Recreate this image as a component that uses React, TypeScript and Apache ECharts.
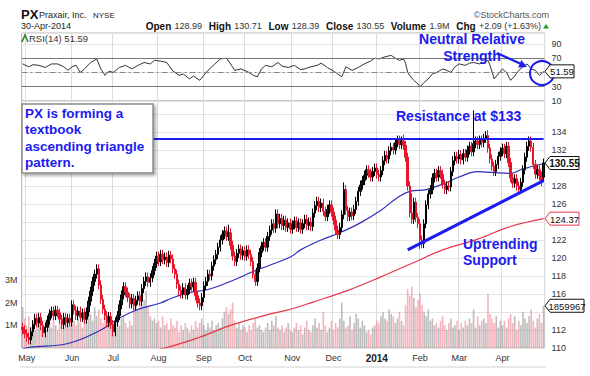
import React, { useEffect, useRef } from "react";
import * as echarts from "echarts";

const FONT = "'Liberation Sans', Arial, Helvetica, sans-serif";
const BLUE = "#1c1cf0";

// ---------- data ----------
const HOLIDAYS = ["2013-05-27", "2013-07-04", "2013-09-02", "2013-11-28", "2013-12-25", "2014-01-01", "2014-01-20", "2014-02-17", "2014-04-18"];
const MONTH_LABELS = ["May", "Jun", "Jul", "Aug", "Sep", "Oct", "Nov", "Dec", "2014", "Feb", "Mar", "Apr"];

const closes = [
  112.0, 111.6,
  111.2, 110.9, 111.8, 112.6, 113.3, 112.8, 113.4, 112.5, 111.7, 112.3, 113.1, 113.8, 114.1, 113.6, 114.2, 113.9, 113.2, 112.6, 113.4, 112.8, 113.3, 112.9,
  114.8, 114.2, 113.6, 114.1, 113.4, 113.9, 113.2, 114.0, 115.2, 116.3, 117.4, 118.2, 118.8, 117.0, 115.4, 114.3, 113.6, 112.8, 113.5, 112.6,
  111.8, 112.9, 113.6, 114.8, 115.9, 116.8, 116.2, 115.6, 114.9, 115.5, 114.7, 115.3, 115.8, 115.2, 116.6, 117.4, 117.9, 117.3, 117.8, 118.6, 119.4, 120.2,
  119.6, 120.4, 119.8, 120.1, 119.5, 120.3, 119.9, 118.8, 118.2, 117.1, 116.4, 116.0, 116.7, 115.9, 116.5, 117.2, 116.8, 117.3, 115.8, 115.0, 114.7, 115.6,
  116.9, 117.4, 118.2, 118.0, 119.1, 119.8, 120.4, 121.2, 122.0, 122.6, 123.0, 122.4, 122.8, 121.4, 120.2, 119.6, 120.5, 121.0, 120.3, 120.8,
  120.2, 120.9, 120.4, 119.6, 118.2, 117.4, 118.9, 120.6, 121.3, 121.7, 121.2, 122.4, 123.1, 123.8, 123.3, 124.9, 123.8, 124.4, 123.6, 124.2, 123.4, 123.9, 123.2,
  123.7, 124.1, 123.4, 123.9, 123.2, 123.8, 124.3, 123.6, 124.0, 123.5, 125.0, 125.8, 126.3, 125.6, 126.1, 125.2, 124.6, 125.4, 125.9, 125.1,
  124.2, 123.1, 122.6, 123.4, 124.8, 127.6, 125.3, 124.6, 125.1, 124.7, 125.4, 126.3, 127.4, 128.1, 128.6, 129.2, 129.8, 129.4, 129.0, 129.6, 130.0,
  129.3, 129.0, 129.7, 130.8, 131.4, 131.0, 131.9, 132.3, 132.0, 132.8, 133.1, 132.6, 133.0, 132.5, 131.2, 128.0, 125.0, 124.3, 126.2, 124.5, 123.8,
  122.0, 121.6, 123.8, 125.9, 127.1, 127.6, 128.9, 129.4, 129.0, 129.7, 129.3, 128.2, 127.6, 128.0, 127.9, 129.6, 130.8, 131.3, 131.0,
  131.5, 130.9, 131.6, 131.2, 132.0, 132.4, 131.8, 132.7, 133.0, 132.6, 133.1, 132.8, 133.3, 133.6, 132.2, 131.0, 130.2, 129.6, 130.4, 131.3, 131.8,
  132.2, 131.6, 132.4, 130.6, 128.9, 128.3, 128.8, 128.0, 127.6, 128.4, 129.8, 131.2, 132.4, 133.0, 132.3, 130.4, 129.3, 129.8, 129.1, 128.46, 130.55,
];
const firstOpen = 112.3;
const lastOpen = 128.99;
// notable wick extremes [dayIndex, price]
const wickHighs = [[219, 136.4], [185, 133.7], [156, 128.4], [189, 127.2], [226, 134.2], [36, 119.3], [100, 123.7], [123, 125.4]];
const wickLows = [[193, 121.0], [113, 116.9], [86, 114.3], [44, 111.3], [241, 127.0], [3, 110.4]];
const wickSize = 0.5;

const volumesM = [
  1.8, 1.3,
  1.0, 1.4, 0.9, 1.2, 0.8, 1.1, 1.3, 0.9, 1.0, 1.2, 0.8, 1.1, 0.9, 1.3, 1.0, 0.8, 1.2, 1.4, 0.9, 1.1, 1.0, 1.3,
  1.5, 1.2, 1.0, 1.3, 1.1, 0.9, 1.4, 1.6, 1.9, 1.5, 1.2, 1.8, 1.4, 1.7, 1.3, 1.1, 1.5, 1.2, 1.0, 1.4,
  1.1, 0.8, 1.2, 1.0, 1.3, 1.4, 1.1, 0.9, 1.2, 1.0, 1.8, 2.0, 1.7, 2.2, 1.9, 2.1, 2.5, 1.8, 1.4, 1.2, 1.3, 1.1,
  1.2, 0.9, 1.4, 1.0, 1.1, 0.8, 1.3, 1.0, 0.9, 1.2, 0.7, 1.0, 0.8, 1.1, 0.9, 0.7, 1.0, 0.8, 1.2, 0.9, 1.1, 1.3,
  1.0, 0.8, 1.1, 0.9, 1.2, 0.8, 1.0, 1.1, 0.9, 1.3, 1.6, 1.8, 1.5, 1.7, 2.0, 1.2, 0.9, 1.1, 0.8, 1.0,
  0.9, 0.7, 1.0, 0.8, 1.1, 1.3, 0.9, 1.0, 0.8, 0.7, 0.9, 1.1, 0.8, 1.2, 1.0, 1.4, 0.9, 0.8, 1.0, 0.7, 0.9, 1.1, 0.8,
  0.7, 0.9, 1.1, 0.8, 1.0, 0.6, 0.9, 1.2, 0.8, 0.7, 1.0, 1.3, 0.9, 1.1, 0.8, 1.6, 1.0, 0.7, 0.9, 1.2,
  0.8, 1.1, 0.9, 1.3, 2.0, 1.2, 0.9, 1.0, 1.4, 0.8, 1.1, 1.5, 1.3, 0.9, 1.2, 1.0, 0.7, 0.8, 0.6, 0.9, 1.0,
  1.2, 1.1, 1.4, 1.6, 1.3, 1.2, 1.7, 1.5, 1.4, 1.1, 1.3, 1.6, 1.2, 1.0, 1.9, 2.6, 2.3, 2.7, 2.2, 1.8, 2.1,
  2.4, 1.9, 1.6, 1.4, 1.7, 1.2, 1.3, 1.0, 1.1, 0.9, 1.2, 1.4, 1.0, 0.8, 1.1, 1.3, 0.9, 1.0, 1.2,
  0.8, 1.1, 0.9, 1.2, 1.0, 1.3, 1.1, 1.7, 0.9, 1.4, 1.0, 1.2, 1.3, 1.1, 2.4, 1.5, 1.3, 1.1, 1.4, 0.9, 1.2,
  1.0, 1.2, 0.9, 1.3, 1.5, 1.1, 1.4, 0.8, 1.2, 1.0, 1.6, 1.3, 1.1, 1.4, 1.7, 1.2, 0.9, 1.3, 1.5, 1.1, 1.86,
];
const lastVolume = 1859967;

// moving averages: [dayIndex, value]
const ma50 = [[0, 109.9], [4, 110.1], [22, 110.5], [38, 112.0], [46, 113.2], [55, 114.2], [67, 115.0], [72, 115.5], [80, 116.1], [90, 116.5], [102, 117.5], [112, 118.5], [120, 119.2], [130, 120.1], [135, 120.9], [145, 122.0], [154, 122.8], [164, 123.9], [174, 125.3], [182, 126.7], [188, 127.4], [196, 127.6], [204, 128.2], [212, 129.0], [221, 129.6], [228, 129.5], [237, 129.4], [243, 129.9], [253, 130.5]];
const ma200 = [[47, 109.0], [69, 110.0], [86, 111.2], [102, 112.6], [119, 113.7], [130, 114.3], [141, 115.1], [158, 116.4], [174, 117.9], [190, 119.5], [204, 120.9], [221, 122.1], [237, 123.5], [253, 124.37]];

const rsi = [[0, 62], [3, 58], [5, 61], [8, 60], [11, 57], [14, 62], [17, 62], [20, 58], [22, 53], [24, 58], [26, 60], [28, 50], [30, 55], [33, 64], [36, 69], [38, 55], [40, 46], [42, 52], [44, 50], [47, 57], [50, 60], [53, 55], [56, 60], [59, 64], [62, 62], [64, 67], [67, 66], [70, 64], [73, 52], [76, 46], [78, 48], [81, 41], [83, 45], [86, 39], [88, 46], [90, 53], [93, 61], [96, 69], [99, 70], [101, 62], [103, 53], [106, 55], [110, 50], [112, 46], [114, 44], [116, 55], [118, 60], [121, 58], [124, 64], [126, 59], [129, 57], [132, 60], [135, 54], [137, 55], [140, 58], [143, 60], [145, 63], [148, 57], [151, 52], [153, 48], [155, 44], [157, 58], [160, 53], [163, 57], [166, 62], [169, 66], [171, 70], [173, 69], [176, 72], [179, 74], [181, 70], [183, 67], [185, 69], [186, 63], [187, 50], [189, 42], [190, 39], [192, 34], [193, 30], [195, 36], [197, 41], [199, 48], [201, 50], [204, 55], [206, 53], [208, 50], [210, 58], [212, 62], [215, 60], [217, 63], [219, 64], [222, 62], [224, 64], [226, 67], [227, 60], [229, 41], [231, 48], [233, 55], [235, 50], [237, 39], [239, 45], [241, 53], [243, 58], [245, 62], [247, 55], [249, 53], [251, 46], [253, 51.59]];
const lastRsi = 51.59;

const resistanceLevel = 133.2;
const supportLine = [[187, 120.9], [253, 128.6]];

// ---------- helpers ----------
function tradingDays(): string[] {
  const out: string[] = [];
  const d = new Date(Date.UTC(2013, 3, 29));
  const e = new Date(Date.UTC(2014, 3, 30));
  while (d.getTime() <= e.getTime()) {
    const wd = d.getUTCDay();
    const s = d.toISOString().slice(0, 10);
    if (wd !== 0 && wd !== 6 && HOLIDAYS.indexOf(s) < 0) out.push(s);
    d.setUTCDate(d.getUTCDate() + 1);
  }
  return out;
}

const dates = tradingDays();
const monthStart: Record<number, string> = {};
{
  let k = 0;
  for (let i = 1; i < dates.length; i++) {
    if (dates[i].slice(5, 7) !== dates[i - 1].slice(5, 7)) {
      monthStart[i] = MONTH_LABELS[k++] || "";
    }
  }
}
const isMonthStart = (i: number) => monthStart[i] !== undefined;

const P_MIN = 110;
const P_MAX = 137.44;
const V_MAX = 10.88;

function buildCandles() {
  const hi: Record<number, number> = {};
  const lo: Record<number, number> = {};
  wickHighs.forEach(([i, v]) => (hi[i] = v));
  wickLows.forEach(([i, v]) => (lo[i] = v));
  return closes.map((c, i) => {
    const o = i === 0 ? firstOpen : i === closes.length - 1 ? lastOpen : closes[i - 1];
    const h = Math.max(hi[i] ?? 0, Math.max(o, c) + wickSize);
    const l = Math.min(lo[i] ?? 999, Math.min(o, c) - wickSize);
    return [o, c, l, h];
  });
}

function buildVolumes() {
  return volumesM.map((v, i) => {
    const down = i > 0 && closes[i] < closes[i - 1];
    return { value: v, itemStyle: { color: down ? "rgba(236,120,134,0.55)" : "rgba(150,150,150,0.62)" } };
  });
}

// price-axis labels hidden where a value box sits on top of them
const lastClose = closes[closes.length - 1];
const lastMa200 = ma200[ma200.length - 1][1];
const volAsPrice = P_MIN + (lastVolume / 1e6 / V_MAX) * (P_MAX - P_MIN);
const boxedPrices = [lastClose, lastMa200, volAsPrice];
const priceLabel = (v: number) => {
  if (v > 135) return "";
  if (boxedPrices.some((b) => Math.abs(b - v) < 0.95)) return "";
  return String(v);
};

const GRID_L = 21.6;
const GRID_R = 45.4;

function buildOption(): any {
  return {
    animation: false,
    backgroundColor: "#ffffff",
    textStyle: { fontFamily: FONT },
    grid: [
      { left: GRID_L, right: GRID_R, top: 101, height: 247, show: true, borderColor: "#b5b5b5", borderWidth: 1, backgroundColor: "transparent" },
      { left: GRID_L, right: GRID_R, top: 33, height: 68, show: true, borderColor: "#b5b5b5", borderWidth: 1, backgroundColor: "transparent" },
    ],
    xAxis: [
      {
        type: "category", gridIndex: 0, data: dates, boundaryGap: true,
        axisLine: { show: false }, axisTick: { show: false },
        axisLabel: {
          interval: (i: number) => isMonthStart(i),
          formatter: (_v: string, i: number) => (monthStart[i] === "2014" ? "{b|2014}" : monthStart[i] || ""),
          fontSize: 9, color: "#333", margin: 5, fontFamily: FONT,
          rich: { b: { fontWeight: "bold", fontSize: 10, color: "#222", fontFamily: FONT } },
        },
        splitLine: { show: true, interval: (i: number) => isMonthStart(i), lineStyle: { color: "#dcdcdc", width: 1 } },
      },
      {
        type: "category", gridIndex: 1, data: dates, boundaryGap: true,
        axisLine: { show: false }, axisTick: { show: false }, axisLabel: { show: false },
        splitLine: { show: true, interval: (i: number) => isMonthStart(i), lineStyle: { color: "#dcdcdc", width: 1 } },
      },
    ],
    yAxis: [
      {
        type: "value", gridIndex: 0, position: "right", min: P_MIN, max: P_MAX, interval: 2,
        axisLine: { show: false }, axisTick: { show: false },
        axisLabel: { fontSize: 9, color: "#333", margin: 7, fontFamily: FONT, formatter: priceLabel },
        splitLine: { show: true, lineStyle: { color: "#e3e3e3", width: 1 } },
      },
      {
        type: "value", gridIndex: 1, position: "right", min: 10, max: 105.4, interval: 20,
        axisLine: { show: false }, axisTick: { show: false },
        axisLabel: { fontSize: 9, color: "#333", margin: 7, fontFamily: FONT, formatter: (v: number) => (v === 50 || v > 95 ? "" : String(v)) },
        splitLine: { show: true, lineStyle: { color: "#e3e3e3", width: 1 } },
      },
      {
        type: "value", gridIndex: 0, position: "left", min: 0, max: V_MAX, interval: 1,
        axisLine: { show: false }, axisTick: { show: false }, splitLine: { show: false },
        axisLabel: { fontSize: 9, color: "#333", margin: 4, fontFamily: FONT, formatter: (v: number) => (v >= 1 && v <= 3 ? v + "M" : "") },
      },
    ],
    series: [
      {
        type: "bar", name: "Volume", xAxisIndex: 0, yAxisIndex: 2, data: buildVolumes(),
        barCategoryGap: "20%", silent: true, z: 1,
      },
      {
        type: "line", name: "MA200", xAxisIndex: 0, yAxisIndex: 0, data: ma200, showSymbol: false, smooth: 0.4,
        lineStyle: { color: "#e5364c", width: 1.2 }, silent: true, z: 2,
      },
      {
        type: "line", name: "MA50", xAxisIndex: 0, yAxisIndex: 0, data: ma50, showSymbol: false, smooth: 0.4,
        lineStyle: { color: "#2f2fb8", width: 1.2 }, silent: true, z: 2,
      },
      {
        type: "candlestick", name: "PX", xAxisIndex: 0, yAxisIndex: 0, data: buildCandles(), barWidth: 1.9, silent: true, z: 3,
        itemStyle: { color: "#1a1a1a", color0: "#e3162b", borderColor: "#000", borderColor0: "#e3162b", borderWidth: 1 },
        markLine: {
          silent: true, symbol: ["none", "none"], animation: false, label: { show: false },
          data: [
            [
              { coord: [0, resistanceLevel], lineStyle: { color: BLUE, width: 2.2, type: "solid" } },
              { coord: [closes.length - 1, resistanceLevel] },
            ],
            [
              { coord: supportLine[0], lineStyle: { color: BLUE, width: 3, type: "solid" } },
              { coord: supportLine[1] },
            ],
          ],
        },
      },
      {
        type: "line", name: "RSI", xAxisIndex: 1, yAxisIndex: 1, data: rsi, showSymbol: false,
        lineStyle: { color: "#333", width: 1 }, silent: true, z: 3,
        markLine: {
          silent: true, symbol: ["none", "none"], animation: false, label: { show: false },
          data: [
            { yAxis: 70, lineStyle: { color: "#777", width: 1, type: "solid" } },
            { yAxis: 30, lineStyle: { color: "#777", width: 1, type: "solid" } },
            { yAxis: 50, lineStyle: { color: "#888", width: 1, type: [6, 3, 2, 3] } },
          ],
        },
      },
    ],
  };
}

function valueBox(y: number, text: string, stroke: string, bold: boolean, x1: number): any[] {
  const x0 = 545;
  return [
    {
      type: "polygon", z: 50,
      shape: { points: [[x0, y], [x0 + 5, y - 6.5], [x1, y - 6.5], [x1, y + 6.5], [x0 + 5, y + 6.5]] },
      style: { fill: "#fff", stroke, lineWidth: 1 },
    },
    {
      type: "text", z: 51, x: (x0 + 5 + x1) / 2, y: y + 0.5,
      style: { text, fill: "#111", font: `${bold ? "bold " : ""}${bold ? 10 : 9.5}px ${FONT}`, textAlign: "center", textVerticalAlign: "middle" },
    },
  ];
}

function buildGraphics(chart: any): any[] {
  const yClose = chart.convertToPixel({ yAxisIndex: 0 }, lastClose);
  const yMa = chart.convertToPixel({ yAxisIndex: 0 }, lastMa200);
  const yVol = chart.convertToPixel({ yAxisIndex: 2 }, lastVolume / 1e6);
  const yRsi = chart.convertToPixel({ yAxisIndex: 1 }, lastRsi);
  const t = (x: number, y: number, text: string, font: string, fill = "#222", align = "left") => ({
    type: "text", x, y, z: 40,
    style: { text, font, fill, textAlign: align, textVerticalAlign: "middle" },
  });
  const big = `bold 14px ${FONT}`;
  return [
    // header
    t(21, 14, "PX", `bold 13px ${FONT}`, "#111"),
    t(39, 15, "Praxair, Inc.", `9px ${FONT}`, "#222"),
    t(93, 15, "NYSE", `8px ${FONT}`, "#222"),
    t(21, 26, "30-Apr-2014", `9px ${FONT}`, "#222"),
    t(549, 15, "\u00a9StockCharts.com", `9px ${FONT}`, "#555", "right"),
    {
      type: "text", x: 541, y: 26, z: 40,
      style: {
        text: "{b|Open} {n|128.99}  {b|High} {n|130.71}  {b|Low} {n|128.39}  {b|Close} {n|130.55}  {b|Volume} {n|1.9M}  {b|Chg} {n|+2.09 (+1.63%)}",
        textAlign: "right", textVerticalAlign: "middle",
        rich: {
          b: { fontFamily: FONT, fontWeight: "bold", fontSize: 10, fill: "#111" },
          n: { fontFamily: FONT, fontSize: 9, fill: "#333" },
        },
      },
    },
    { type: "polygon", z: 40, shape: { points: [[543, 28.5], [546, 24], [549, 28.5]] }, style: { fill: "#22a022" } },
    // RSI label
    { type: "polyline", z: 40, shape: { points: [[22, 42], [25, 35], [28, 42]] }, style: { stroke: "#2a8a2a", lineWidth: 1.6, fill: "none" } },
    t(29, 38, "RSI(14) 51.59", `9.5px ${FONT}`, "#333"),
    // bottom rule
    { type: "line", z: 5, shape: { x1: 20, y1: 367, x2: 546, y2: 367 }, style: { stroke: "#d0d0d0", lineWidth: 1 } },
    // annotations
    t(472, 39, "Neutral Relative", big, BLUE, "center"),
    t(472, 56, "Strength", big, BLUE, "center"),
    { type: "line", z: 40, shape: { x1: 497, y1: 53, x2: 520, y2: 63.5 }, style: { stroke: BLUE, lineWidth: 2.2 } },
    { type: "polygon", z: 40, shape: { points: [[527, 67], [518.1, 67.4], [521.3, 60.1]] }, style: { fill: BLUE } },
    { type: "circle", z: 45, shape: { cx: 542, cy: 73, r: 12 }, style: { stroke: BLUE, lineWidth: 2, fill: "none" } },
    t(396, 116, "Resistance at $133", big, BLUE),
    t(463, 244, "Uptrending", big, BLUE),
    t(463, 260, "Support", big, BLUE),
    {
      type: "rect", z: 41, shape: { x: 22, y: 104, width: 131, height: 69 },
      style: { fill: "#fff", stroke: "#8c8c8c", lineWidth: 1.5, shadowBlur: 3, shadowOffsetX: 2, shadowOffsetY: 2, shadowColor: "rgba(0,0,0,0.35)" },
    },
    { ...t(25, 113, "PX is forming a", `bold 13.5px ${FONT}`, BLUE), z: 42 },
    { ...t(25, 129.5, "textbook", `bold 13.5px ${FONT}`, BLUE), z: 42 },
    { ...t(25, 146, "ascending triangle", `bold 13.5px ${FONT}`, BLUE), z: 42 },
    { ...t(25, 162.5, "pattern.", `bold 13.5px ${FONT}`, BLUE), z: 42 },
    // value boxes on the right
    ...valueBox(yClose, lastClose.toFixed(2), "#111", true, 579),
    ...valueBox(yMa, lastMa200.toFixed(2), "#e5364c", false, 579),
    ...valueBox(yVol, String(lastVolume), "#111", false, 584),
    ...valueBox(yRsi, lastRsi.toFixed(2), "#111", false, 574),
  ];
}

export default function App() {
  const ref = useRef<HTMLDivElement>(null);
  useEffect(() => {
    const el = ref.current;
    if (!el) return;
    const chart = echarts.init(el, null, { renderer: "svg" });
    chart.setOption(buildOption());
    chart.setOption({ graphic: buildGraphics(chart) });
    return () => chart.dispose();
  }, []);
  return (
    <div
      ref={ref}
      style={{ position: "fixed", left: 0, top: 0, width: 590, height: 376, background: "#fff" }}
    />
  );
}
